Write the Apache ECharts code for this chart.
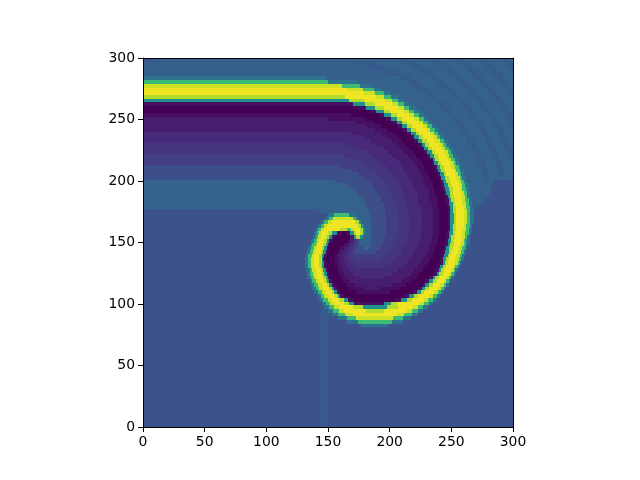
<!DOCTYPE html>
<html>
<head>
<meta charset="utf-8">
<style>html,body{margin:0;padding:0;background:#fff}#c{width:640px;height:480px}</style>
<script src="https://cdn.jsdelivr.net/npm/echarts@6/dist/echarts.min.js"></script>
</head>
<body>
<div id="c"></div>
<script>
// Each row (top to bottom) lists runs "value:endX": the field value.
const xTicks = [0, 300, 50];
const yTicks = [0, 300, 50];
const rowHeight = 3;
const viridis = ['#440154','#482475','#414487','#355f8d','#2a788e','#21918c','#22a884','#44bf70','#7ad151','#bddf26','#fde725'];

const rowsAboveBand = [
"26:9 30:207 28:216 31:233 28:240 31:254 28:260 31:272 28:278 31:291 28:296 31:300",
"30:170 28:188 31:213 28:222 31:237 28:244 31:257 28:264 31:275 28:281 31:294 28:299 31:300",
"30:184 28:197 31:219 28:227 31:242 28:248 31:261 28:267 31:278 28:284 31:296 28:300",
"30:194 28:205 31:224 28:232 31:246 28:252 31:264 28:270 31:281 28:287 31:299 28:300",
"30:202 28:211 31:229 28:236 31:249 28:256 31:267 28:273 31:284 28:290 31:300",
"38:148 31:208 28:217 31:234 28:240 31:253 28:259 31:270 28:276 31:287 28:292 31:300"
];
const rowsUpperArc = [
"68:150 38:174 31:214 28:222 31:238 28:244 31:256 28:262 31:273 28:279 31:289 28:295 31:300",
"92:161 68:176 38:186 31:219 28:226 31:241 28:248 31:260 28:265 31:276 28:281 31:292 28:297 31:300",
"98:165 92:178 68:187 38:194 31:224 28:231 31:245 28:251 31:263 28:268 31:279 28:284 31:294 28:299 31:300",
"98:179 92:188 68:195 38:201 31:228 28:235 31:248 28:254 31:265 28:271 31:281 28:286 31:296 28:300",
"88:164 98:189 92:195 68:201 38:207 31:232 28:238 31:252 28:257 31:268 28:273 31:284 28:289 31:298 28:300",
"50:167 88:179 98:196 92:202 68:207 38:212 31:236 28:242 31:255 28:260 31:271 28:276 31:286 28:291 31:300",
"4:170 50:180 88:188 98:202 92:207 68:212 38:216 31:239 28:245 31:257 28:263 31:273 28:278 31:288 28:293 31:300",
"0:174 4:181 50:188 88:195 98:207 92:212 68:216 38:221 31:242 28:248 31:260 28:265 31:275 28:280 31:290 28:295 31:300",
"0:184 4:189 50:195 88:200 98:212 92:216 68:220 38:225 31:245 28:251 31:262 28:268 31:278 28:282 31:292 28:297 31:300",
"4:169 0:191 4:195 50:201 88:206 98:216 92:220 68:224 38:228 31:248 28:253 31:265 28:270 31:280 28:284 31:294 28:299 31:300",
"8:150 4:180 0:197 4:201 50:206 88:210 98:220 92:224 68:228 38:231 31:251 28:256 31:267 28:272 31:282 28:286 31:296 28:300",
"8:172 4:187 0:202 4:206 50:210 88:214 98:224 92:227 68:231 38:234 31:253 28:258 31:269 28:274 31:284 28:288 31:297 28:300",
"8:181 4:193 0:206 4:210 50:214 88:218 98:227 92:230 68:234 38:237 31:255 28:260 31:271 28:276 31:285 28:290 31:299 28:300",
"8:188 4:198 0:210 4:214 50:217 88:221 98:230 92:233 68:237 38:240 31:258 28:262 31:273 28:278 31:287 28:292 31:300",
"12:169 8:194 4:203 0:214 4:217 50:221 88:224 98:233 92:236 68:239 38:242 31:260 28:264 31:275 28:280 31:289 28:293 31:300",
"12:178 8:198 4:207 0:217 4:220 50:224 88:227 98:235 92:238 68:241 38:245 31:262 28:266 31:277 28:281 31:290 28:295 31:300",
"12:185 8:202 4:210 0:220 4:223 50:226 88:230 98:237 92:241 68:244 38:247 31:263 28:268 31:278 28:283 31:292 28:296 31:300",
"15:164 12:190 8:206 4:213 0:223 4:226 50:229 88:232 98:240 92:243 68:246 38:249 31:265 28:270 31:280 28:284 31:293 28:298 31:300",
"15:174 12:195 8:209 4:216 0:226 4:228 50:231 88:234 98:242 92:245 68:248 38:251 31:267 28:271 31:281 28:286 31:294 28:300",
"15:181 12:199 8:212 4:219 0:228 4:230 50:234 88:237 98:244 92:247 68:250 38:252 31:268 28:273 31:283 28:287 31:296 28:300",
"18:163 15:186 12:202 8:215 4:221 0:230 4:233 50:236 88:239 98:246 92:248 68:251 38:254 31:270 28:274 31:284 28:288 31:297 28:300",
"18:172 15:190 12:205 8:217 4:224 0:232 4:235 50:237 88:240 98:247 92:250 68:253 38:256 31:271 28:275 31:285 28:289 31:298 28:300",
"18:178 15:194 12:208 8:220 4:226 0:234 4:236 50:239 88:242 98:249 92:252 68:254 38:257 31:272 28:277 31:286 28:291 31:299 28:300",
"24:160 18:183 15:197 12:210 8:222 4:228 0:236 4:238 50:241 88:244 98:250 92:253 68:256 38:258 31:274 28:278 31:287 28:292 31:300",
"24:169 18:187 15:200 12:212 8:224 4:229 0:237 4:239 50:242 88:245 98:252 92:254 68:257 38:260 31:275 28:279 31:288 28:293 31:300",
"24:175 18:190 15:202 12:214 8:225 4:231 0:239 4:241 50:244 88:246 98:253 92:255 68:258 38:261 31:276 28:280 31:289 28:293 31:300",
"24:179 18:193 15:204 12:216 8:227 4:232 0:240 4:242 50:245 88:248 98:254 92:257 68:259 38:262 31:277 28:281 31:300",
"31:156 24:183 18:195 15:206 12:218 8:228 4:234 0:241 4:243 50:246 88:249 98:255 92:258 68:260 38:263 31:284 25:300",
"31:165 24:186 18:198 15:208 12:219 8:229 4:235 0:242 4:244 50:247 88:250 98:256 92:259 68:261 38:264 31:283 25:300",
"31:170 24:188 18:199 15:210 12:220 8:231 4:236 0:243 4:245 50:248 88:251 98:257 92:259 68:262 38:265 31:282 25:300",
"31:174 24:190 18:201 15:211 12:222 8:232 4:237 0:244 4:246 50:249 88:251 98:258 92:260 68:263 38:265 31:281 25:300",
"31:177 24:192 18:202 15:212 12:223 8:232 4:238 0:245 4:247 50:249 88:252 98:258 92:261 68:263 38:266 31:280 25:300",
"31:179 24:193 18:204 15:213 12:223 8:233 4:238 0:246 4:248 50:250 88:253 98:259 92:261 68:264 38:266 31:277 25:300",
"31:181 24:195 18:205 15:214 12:224 8:234 4:239 0:246 4:248 50:251 88:253 98:259 92:262 68:264 38:267 31:274 25:300",
"31:182 24:196 18:205 15:215 12:225 8:234 4:239 0:247 4:249 50:251 88:254 98:260 92:262 68:265 38:267 31:271 25:300"
];
const rowsSpiral = [
"25:143 31:183 24:196 18:206 15:215 12:225 8:235 4:240 0:247 4:249 50:251 88:254 98:260 92:263 68:265 38:268 25:300",
"25:150 38:155 68:167 38:172 31:184 24:197 18:207 15:216 12:226 8:235 4:240 0:247 4:249 50:252 88:254 98:260 92:263 68:265 38:268 25:300",
"25:148 38:151 68:154 92:170 68:173 38:175 31:185 24:197 18:207 15:216 12:226 8:235 4:240 0:247 4:249 50:252 88:254 98:260 92:263 68:265 38:268 25:300",
"25:144 38:147 68:150 92:153 98:172 88:175 50:177 31:185 24:197 18:207 15:216 12:226 8:235 4:240 0:247 4:249 50:252 88:254 98:260 92:263 68:265 38:268 25:300",
"25:142 38:144 68:147 92:149 98:174 88:177 50:179 31:185 24:197 18:207 15:216 12:226 8:235 4:240 0:247 4:249 50:251 88:254 98:260 92:262 68:265 38:267 25:300",
"25:140 38:142 68:144 92:147 98:160 88:165 68:169 92:172 98:176 88:178 50:180 31:185 24:197 18:207 15:216 12:226 8:235 4:240 0:247 4:249 50:251 88:254 98:259 92:262 68:264 38:267 25:300",
"25:139 38:141 68:143 92:145 98:150 88:153 50:157 4:161 0:165 4:168 50:171 88:173 98:176 88:178 50:180 31:185 24:197 18:206 15:215 12:225 8:235 4:240 0:246 4:248 50:251 88:253 98:259 92:261 68:264 38:266 25:300",
"25:138 38:140 68:142 92:144 98:148 88:151 50:153 4:156 0:168 8:171 50:173 88:176 50:178 31:186 24:196 18:205 15:215 12:225 8:234 4:239 0:246 4:248 50:250 88:253 98:258 92:261 68:263 38:265 25:300",
"25:136 38:139 68:141 92:143 98:147 88:149 50:151 4:154 0:166 4:168 8:170 12:171 15:173 18:174 24:176 31:185 24:195 18:204 15:214 12:224 8:234 4:239 0:245 4:247 50:250 88:252 98:258 92:260 68:262 38:265 25:300",
"25:135 38:137 68:140 92:142 98:146 88:148 50:150 4:152 0:163 4:165 8:168 12:170 15:172 18:174 24:176 31:185 24:194 18:203 15:213 12:223 8:233 4:238 0:245 4:247 50:249 88:252 98:257 92:260 68:262 38:264 25:300",
"25:134 38:136 68:139 92:141 98:145 88:147 50:149 4:151 0:160 4:163 8:166 12:169 15:171 18:173 24:178 31:183 24:192 18:201 15:211 12:222 8:232 4:237 0:244 4:246 50:248 88:251 98:256 92:259 68:261 38:263 25:300",
"25:133 38:135 68:138 92:140 98:144 88:146 50:148 4:150 0:158 4:160 8:164 12:167 15:170 18:172 24:189 18:199 15:209 12:220 8:231 4:236 0:243 4:245 50:248 88:250 98:255 92:258 68:260 38:262 25:300",
"25:132 38:134 68:137 92:139 98:143 88:145 50:147 4:149 0:156 4:158 8:162 12:166 15:169 18:196 15:207 12:219 8:229 4:235 0:242 4:244 50:247 88:249 98:254 92:257 68:259 38:261 25:300",
"25:131 38:134 68:136 92:139 98:143 88:145 50:146 4:148 0:156 4:159 8:163 12:167 15:173 18:191 15:204 12:216 8:227 4:233 0:241 4:243 50:246 88:248 98:253 92:256 68:258 38:260 25:300",
"25:131 38:134 68:136 92:139 98:143 88:145 50:147 4:149 0:156 4:159 8:164 12:169 15:201 12:214 8:225 4:231 0:240 4:243 50:245 88:247 98:252 92:255 68:257 38:258 25:300",
"25:131 38:134 68:136 92:139 98:143 88:145 50:147 4:149 0:157 4:160 8:165 12:173 15:196 12:211 8:223 4:229 0:238 4:241 50:243 88:246 98:251 92:253 68:255 38:257 25:300",
"25:132 38:135 68:137 92:140 98:144 88:146 50:148 4:150 0:158 4:161 8:167 12:207 8:220 4:227 0:237 4:240 50:242 88:244 98:250 92:252 68:253 38:255 25:300",
"25:133 38:135 68:138 92:140 98:145 88:147 50:149 4:151 0:159 4:163 8:170 12:202 8:217 4:224 0:235 4:238 50:240 88:243 98:248 92:250 68:252 38:254 25:300",
"25:133 38:136 68:139 92:141 98:146 88:148 50:150 4:152 0:161 4:165 8:176 12:195 8:213 4:221 0:232 4:235 50:237 88:240 98:246 92:248 68:250 38:252 25:300",
"25:135 38:137 68:140 92:143 98:147 88:149 50:151 4:153 0:162 4:168 8:209 4:218 0:229 4:232 50:235 88:238 98:244 92:246 68:248 38:250 25:300",
"25:136 38:139 68:142 92:145 98:149 88:151 50:153 4:155 0:165 4:172 8:202 4:213 0:226 4:229 50:232 88:235 98:241 92:244 68:246 38:248 25:300",
"25:137 38:140 68:143 92:146 98:151 88:153 50:155 4:158 0:168 4:179 8:191 4:208 0:223 4:226 50:229 88:232 98:239 92:242 68:244 38:246 25:300",
"25:139 38:142 68:145 92:148 98:153 88:155 50:157 4:160 0:173 4:200 0:219 4:222 50:225 88:228 98:236 92:239 68:242 38:244 25:300",
"25:141 38:144 68:147 92:150 98:156 88:158 50:160 4:163 0:212 4:216 50:220 88:223 98:232 92:235 68:238 38:241 25:300",
"25:143 38:146 68:150 92:153 98:159 88:163 50:166 4:170 0:204 4:209 50:214 88:218 98:228 92:231 68:235 38:238 25:300",
"25:145 38:148 68:152 92:156 98:163 88:167 50:171 4:195 50:201 88:206 98:224 92:228 68:232 38:235 25:300",
"25:147 38:151 68:155 92:159 98:170 88:178 50:198 88:207 98:219 92:223 68:227 38:231 25:300",
"25:144 29:150 38:154 68:159 92:163 98:181 88:195 98:214 92:218 68:223 38:227 25:300",
"25:144 29:150 25:153 38:158 68:164 92:170 98:206 92:212 68:218 38:223 25:300",
"25:144 29:150 25:158 38:165 68:173 92:203 68:211 38:217 25:300",
"25:144 29:150 25:165 38:174 68:202 38:211 25:300",
"25:144 29:150 25:177 38:199 25:300"
];
const rowsBelowSpiral = [
"25:144 29:150 25:300","25:144 29:150 25:300","25:144 29:150 25:300",
"25:144 29:150 25:300","25:144 29:150 25:300","25:144 29:150 25:300",
"25:144 29:150 25:300","25:144 29:150 25:300","25:144 29:150 25:300",
"25:144 29:150 25:300","25:144 29:150 25:300","25:144 29:150 25:300",
"25:144 29:150 25:300","25:144 29:150 25:300","25:144 29:150 25:300",
"25:144 29:150 25:300","25:144 29:150 25:300","25:144 29:150 25:300",
"25:144 29:150 25:300","25:144 29:150 25:300","25:144 29:150 25:300",
"25:144 29:150 25:300","25:144 29:150 25:300","25:144 29:150 25:300",
"25:144 29:150 25:300","25:144 29:150 25:300","25:144 29:150 25:300"
];

const rows = [].concat(rowsAboveBand, rowsUpperArc, rowsSpiral, rowsBelowSpiral);
const runsData = [];
rows.forEach(function (row, r) {
  const yMid = 300 - (r + 0.5) * rowHeight;
  let start = 0;
  row.split(' ').forEach(function (t) {
    const p = t.split(':').map(Number);
    runsData.push([start, p[1], yMid, p[0]]);
    start = p[1];
  });
});

const font = { fontFamily: 'DejaVu Sans', fontSize: 13.9, color: '#000' };
const line = { show: true, onZero: false, lineStyle: { color: '#000', width: 1 } };
function frameAxis(pos, ticks, showMarks, labelPadding) {
  return {
    type: 'value', position: pos, min: ticks[0], max: ticks[1], interval: ticks[2], z: 10,
    axisLine: line, splitLine: { show: false },
    axisTick: { show: showMarks, length: 5, lineStyle: { color: '#000', width: 1 } },
    axisLabel: Object.assign({ show: showMarks, margin: 8, padding: labelPadding, hideOverlap: false, showMinLabel: true, showMaxLabel: true }, font)
  };
}

const chart = echarts.init(document.getElementById('c'), null, { renderer: 'canvas' });
chart.setOption({
  animation: false,
  backgroundColor: '#fff',
  grid: { left: 143, top: 58, width: 370, height: 369, containLabel: false },
  xAxis: [frameAxis('bottom', xTicks, true, 0), frameAxis('top', xTicks, false, 0)],
  yAxis: [frameAxis('left', yTicks, true, [2, 0, 0, 0]), frameAxis('right', yTicks, false, 0)],
  visualMap: { show: false, type: 'continuous', min: 0, max: 100, dimension: 3, seriesIndex: 0, inRange: { color: viridis } },
  series: [{
    type: 'custom', xAxisIndex: 0, yAxisIndex: 0, data: runsData, progressive: 0,
    encode: { x: [0, 1], y: 2 },
    renderItem: function (params, api) {
      const half = rowHeight / 2;
      const a = api.coord([api.value(0), api.value(2) + half]);
      const b = api.coord([api.value(1), api.value(2) - half]);
      const x = Math.round(a[0]), y = Math.round(a[1]);
      return { type: 'rect', shape: { x: x, y: y, width: Math.round(b[0]) - x, height: Math.round(b[1]) - y }, style: { fill: api.visual('color') } };
    }
  }]
});
</script>
</body>
</html>
